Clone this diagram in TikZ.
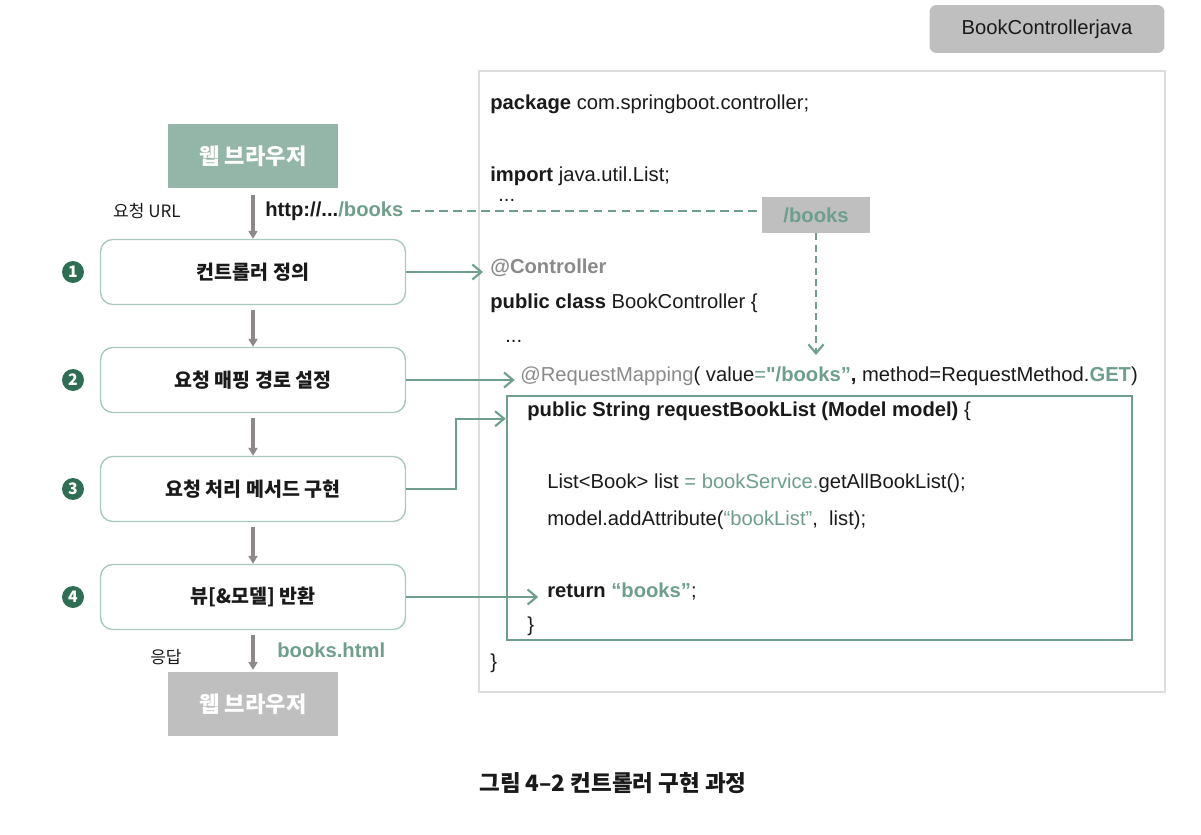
\documentclass[tikz,border=0pt]{standalone}
\usepackage{fontspec}
\setmainfont{Noto Sans CJK KR}
\newfontfamily\codefont{Liberation Sans}
\usetikzlibrary{arrows.meta, positioning, calc}
\definecolor{inkteal}{HTML}{6E9E8C}
\definecolor{inksage}{HTML}{94B6A9}
\definecolor{inkdeep}{HTML}{2E6E55}
\definecolor{inkline}{HTML}{A9C9BD}
\definecolor{inkgray}{HTML}{8E8989}
\definecolor{inkfog}{HTML}{BFBFBF}
\definecolor{inkpanel}{HTML}{DDDDDD}
\definecolor{inkmute}{HTML}{8A8A8A}
\definecolor{inktext}{HTML}{1A1A1A}
\newcommand{\stagebox}[3]{%
  \node[draw=inkline, line width=0.8pt, rounded corners=7pt, fill=white,
        minimum width=6.1cm, minimum height=1.3cm, align=center,
        text=inktext, font=\bfseries\fontsize{11.1}{13}\selectfont] (#1) at (253,#2) {#3};}
\newcommand{\stagenum}[3]{%
  \node[circle, fill=inkdeep, minimum size=0.44cm, inner sep=0pt, text=white,
        font=\bfseries\fontsize{9}{10}\selectfont] (#1) at (73,#2) {#3};}
\newcommand{\tl}[1]{\textcolor{inkteal}{#1}}

\begin{document}
\begin{tikzpicture}[x=0.02cm, y=-0.02cm,
    code/.style={anchor=west, inner sep=0pt, text=inktext, font=\codefont\fontsize{11.5}{13}\selectfont},
    browser/.style={minimum width=3.42cm, minimum height=1.28cm, text=white,
        font=\bfseries\fontsize{12.6}{14}\selectfont},
    flow/.style={-{Triangle[length=1.6mm, width=1.8mm]}, inkgray, line width=2.3pt},
    link/.style={-{Straight Barb[length=1.8mm, width=3mm]}, inkteal, line width=1.2pt},
    side/.style={anchor=east, inner sep=0pt, text=inktext, font=\fontsize{9.7}{11}\selectfont}]
  \useasboundingbox (0,0) rectangle (1201,835);

  % left column
  \node[browser, fill=inksage] (top) at (253,156) {웹 브라우저};
  \stagebox{s1}{272}{컨트롤러 정의}
  \stagebox{s2}{380}{요청 매핑 경로 설정}
  \stagebox{s3}{489}{요청 처리 메서드 구현}
  \stagebox{s4}{597}{뷰[\&모델] 반환}
  \node[browser, fill=inkfog] (bottom) at (253,704) {웹 브라우저};
  \stagenum{n1}{272}{1}
  \stagenum{n2}{380}{2}
  \stagenum{n3}{489}{3}
  \stagenum{n4}{597}{4}

  \draw[flow] ([yshift=-4pt]top.south) -- (s1.north);
  \draw[flow] ([yshift=-3pt]s1.south) -- (s2.north);
  \draw[flow] ([yshift=-3pt]s2.south) -- (s3.north);
  \draw[flow] ([yshift=-3pt]s3.south) -- (s4.north);
  \draw[flow] ([yshift=-3pt]s4.south) -- ([yshift=1pt]bottom.north);

  \node[side] (req) at (181,211) {요청 URL};
  \node[side] (resp) at (182,657) {응답};
  \node[anchor=west, inner sep=0pt, text=inktext, font=\codefont\bfseries\fontsize{11.5}{13}\selectfont]
    (url) at (265,211) {http://...\tl{/books}};
  \node[anchor=west, inner sep=0pt, text=inkteal, font=\codefont\bfseries\fontsize{11.5}{13}\selectfont]
    (html) at (277,650) {books.html};

  % code panel
  \draw[inkpanel, line width=0.8pt, fill=white] (479,71) rectangle (1165,692);
  \node[fill=inkfog, rounded corners=4pt, minimum width=4.7cm, minimum height=0.96cm,
        text=inktext, font=\codefont\fontsize{11.5}{13}\selectfont] (tab) at (1047,29) {BookControllerjava};

  \node[code] (pkg) at (490,104) {\textbf{package} com.springboot.controller;};
  \node[code] (imp) at (490,176) {\textbf{import} java.util.List;};
  \node[code] (dots1) at (498,200) {...};
  \node[code, text=inkmute, font=\codefont\bfseries\fontsize{11.5}{13}\selectfont] (ctrl) at (490,268) {@Controller};
  \node[code] (cls) at (490,303) {\textbf{public class} BookController \{};
  \node[code] (dots2) at (505,341) {...};
  \node[code] (map) at (520,376) {\textcolor{inkmute}{@RequestMapping}( value\tl{=}\tl{\textbf{"/books”}}\textbf{,} method=RequestMethod.\tl{\textbf{GET}})};
  \node[draw=inkteal, line width=1.5pt, minimum width=12.5cm, minimum height=4.88cm,
        inner sep=0pt] (body) at (819.5,518) {};
  \node[code] (sig) at (527,411) {\textbf{public String requestBookList (Model model)} \{};
  \node[code] (lst) at (547,483) {List<Book> list \tl{= bookService.}getAllBookList();};
  \node[code] (attr) at (547,520) {model.addAttribute(\tl{“bookList”},~~list);};
  \node[code] (ret) at (547,591) {\textbf{return} \tl{\textbf{“books”}};};
  \node[code] (close1) at (527,626) {\}};
  \node[code] (close2) at (490,663) {\}};

  \node[fill=inkfog, minimum width=2.18cm, minimum height=0.72cm, text=inkteal,
        font=\codefont\bfseries\fontsize{11.5}{13}\selectfont] (path) at (816,215) {/books};
  \coordinate (pathend) at (816,355);

  % connectors
  \draw[inkteal, line width=1.2pt, dashed, dash pattern=on 5pt off 3pt] ([xshift=4pt]url.east) -- (url.east -| path.west);
  \draw[link, dashed, dash pattern=on 4pt off 2.5pt] (path.south) -- (pathend);
  \draw[link] (s1.east) -- ([xshift=-4pt]s1.east -| ctrl.west);
  \draw[link] (s2.east) -- ([xshift=-3pt]s2.east -| map.west);
  \draw[link] (s3.east) -- ++(50,0) |- ($(body.north west)+(0,24)$);
  \draw[link] (s4.east) -- ([xshift=-5pt]s4.east -| ret.west);

  \node[font=\bfseries\fontsize{12.8}{14}\selectfont, text=inktext] (cap) at (613,783) {그림 4–2 컨트롤러 구현 과정};
\end{tikzpicture}
\end{document}
